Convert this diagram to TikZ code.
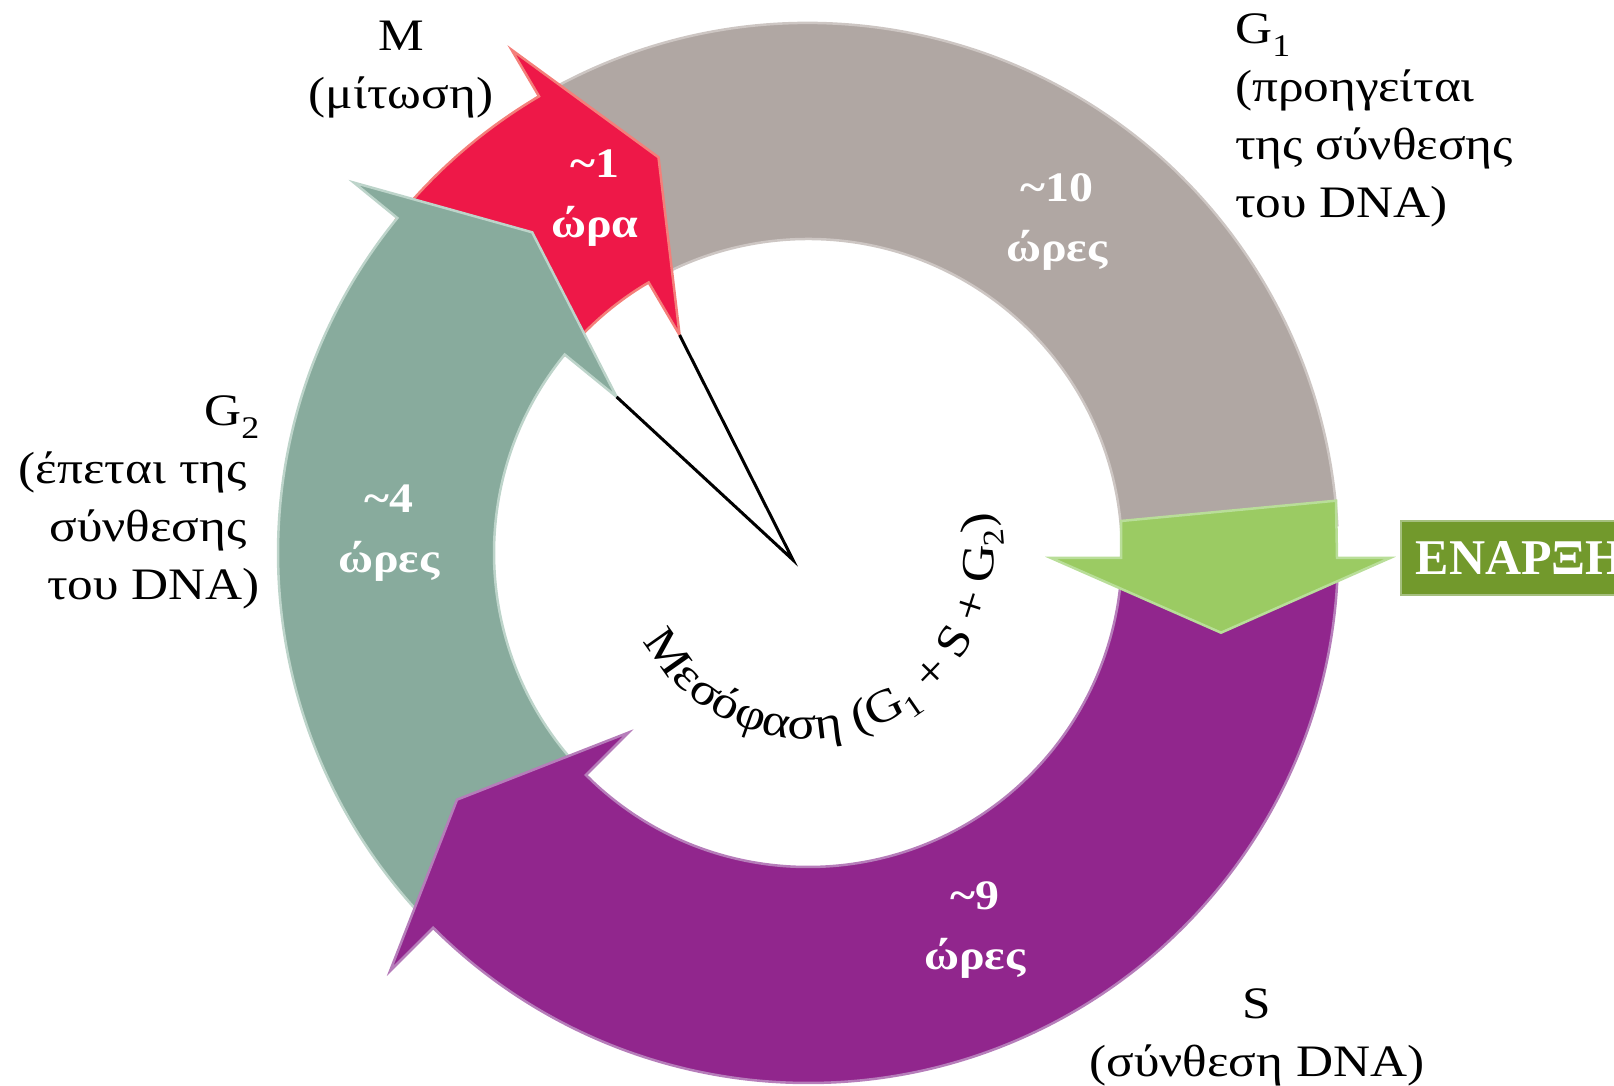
\documentclass[tikz,border=0pt]{standalone}
\usepackage{fontspec}
\setmainfont[FakeStretch=1.14]{Liberation Serif}
\newfontfamily\plainserif{Liberation Serif}
\usetikzlibrary{calc,decorations.text}
\definecolor{cgrey}{HTML}{B0A7A3}
\definecolor{cgreyL}{HTML}{CDC6C3}
\definecolor{cred}{HTML}{EE1848}
\definecolor{credL}{HTML}{F47F7A}
\definecolor{csage}{HTML}{88AB9D}
\definecolor{csageL}{HTML}{BDD4CA}
\definecolor{cpurp}{HTML}{91268D}
\definecolor{cpurpL}{HTML}{B67DBA}
\definecolor{clgreen}{HTML}{9BCB63}
\definecolor{clgreenL}{HTML}{B9DE99}
\definecolor{colive}{HTML}{72992C}
\definecolor{coliveL}{HTML}{A5BF7E}
\newdimen\mwA \newdimen\mwB \newdimen\mwC \newdimen\mwD \newdimen\mwT
\newcommand\curvF{\fontsize{46}{46}\selectfont}
\newcommand\curvf{\fontsize{30}{30}\selectfont}
\AtBeginDocument{%
  \settowidth\mwA{\curvF Μεσόφαση (G}\global\mwA=\mwA
  \settowidth\mwB{\curvF Μεσόφαση (G\curvf 1\curvF\ }\global\mwB=\mwB
  \settowidth\mwC{\curvF Μεσόφαση (G\curvf 1\curvF\ + S + G}\global\mwC=\mwC
  \settowidth\mwD{\curvF Μεσόφαση (G\curvf 1\curvF\ + S + G\curvf 2}\global\mwD=\mwD
  \settowidth\mwT{\curvF Μεσόφαση (G\curvf 1\curvF\ + S + G\curvf 2\curvF )}\global\mwT=\mwT
  \normalsize
}
\tikzset{
  seg/.style 2 args={fill=#1, draw=#2, line width=2.5pt, line join=miter},
  lbl/.style={font=\fontsize{45}{58}\selectfont, text=black, inner sep=0pt},
  wlbl/.style={font=\bfseries\fontsize{42}{60}\selectfont, text=white, align=center, inner sep=0pt},
  ptr/.style={draw=black, line width=3pt, line join=miter}
}
\begin{document}
\begin{tikzpicture}[x=1pt,y=1pt]
\useasboundingbox (0,0) rectangle (1614,1086);
\coordinate (C) at (808,533);
% grey G1
\path[seg={cgrey}{cgreyL}] ($(C)+(121:314pt)$) -- ($(C)+(121:530pt)$)
  arc[start angle=121, end angle=3, radius=530pt] -- ($(C)+(3:314pt)$)
  arc[start angle=3, end angle=121, radius=314pt] -- cycle;
% red M
\coordinate (rBarb) at ($(C)+(120.5:253pt)$);
\path[seg={cred}{credL}] ($(C)+(141:314pt)$) -- ($(C)+(141:530pt)$)
  arc[start angle=141, end angle=120.5, radius=530pt] -- ($(C)+(120.5:584pt)$)
  -- ($(C)+(110.7:423pt)$) -- (rBarb) -- ($(C)+(120.5:314pt)$)
  arc[start angle=120.5, end angle=141, radius=314pt] -- cycle;
% sage G2
\coordinate (gBarb) at ($(C)+(140.8:247pt)$);
\path[seg={csage}{csageL}] ($(C)+(226:314pt)$) -- ($(C)+(226:530pt)$)
  arc[start angle=226, end angle=140.8, radius=530pt] -- ($(C)+(140.8:586pt)$)
  -- ($(C)+(130.7:423pt)$) -- (gBarb) -- ($(C)+(140.8:314pt)$)
  arc[start angle=140.8, end angle=226, radius=314pt] -- cycle;
% purple S
\path[seg={cpurp}{cpurpL}] ($(C)+(-2.5:314pt)$) -- ($(C)+(-2.5:530pt)$)
  arc[start angle=-2.5, end angle=-135, radius=530pt] -- ($(C)+(-135:591pt)$)
  -- ($(C)+(-144.9:429pt)$) -- ($(C)+(-135:254pt)$) -- ($(C)+(-135:314pt)$)
  arc[start angle=-135, end angle=-2.5, radius=314pt] -- cycle;
% start arrow
\path[seg={clgreen}{clgreenL}] (1121,565) -- (1336,585.3) -- (1337,528) -- (1390,528)
  -- (1221,453.3) -- (1051,528) -- (1121,528) -- cycle;
\node[fill=colive, draw=coliveL, line width=1.5pt, anchor=west, minimum height=74pt,
  text width=240pt, align=left, inner xsep=15pt, inner ysep=0pt, text=white,
  font=\plainserif\bfseries\fontsize{50}{50}\selectfont] (start) at (1400,528) {ΕΝΑΡΞΗ};
% pointer
\coordinate (apex) at (793,526);
\draw[ptr] (rBarb) -- (apex) -- (gBarb);
% white labels
\node[wlbl] (t1) at (595,887.5) {\textasciitilde1\\ώρα};
\node[wlbl] (t10) at (1057,863.5) {\textasciitilde10\\ώρες};
\node[wlbl] (t4) at (389,552.5) {\textasciitilde4\\ώρες};
\node[wlbl] (t9) at (975,156) {\textasciitilde9\\ώρες};
% black labels
\node[lbl, align=center, anchor=north] (lM) at (401,1065) {M\\(μίτωση)};
\node[lbl, align=left, anchor=north west] (lG1) at (1235,1072) {G\textsubscript{1}\\(προηγείται\\της σύνθεσης\\του DNA)};
\node[lbl, align=right, anchor=north east] (lG2) at (260,690) {G\textsubscript{2}\\(έπεται της\kern13pt\\σύνθεσης\kern13pt\\του DNA)};
\node[lbl, align=center, anchor=north] (lS) at (1257,97) {S\\(σύνθεση DNA)};
% curved text
\pgfmathsetmacro\angA{290.5-0.5*\the\mwT/186*57.29578}
\pgfmathsetmacro\angB{\angA+\the\mwA/186*57.29578}
\pgfmathsetmacro\angC{\angA+\the\mwB/186*57.29578}
\pgfmathsetmacro\angD{\angA+\the\mwC/186*57.29578}
\pgfmathsetmacro\angE{\angA+\the\mwD/186*57.29578}
\pgfmathsetmacro\angAe{\angA+120}
\pgfmathsetmacro\angBe{\angB+20}
\pgfmathsetmacro\angCe{\angC+100}
\pgfmathsetmacro\angDe{\angD+20}
\pgfmathsetmacro\angEe{\angE+20}
\path[decorate, decoration={text along path, text={|\curvF|Μεσόφαση (G}}]
  ($(C)+(\angA:186pt)$) arc[start angle=\angA, end angle=\angAe, radius=186pt];
\path[decorate, decoration={text along path, text={|\curvf|1}}]
  ($(C)+(\angB:196pt)$) arc[start angle=\angB, end angle=\angBe, radius=196pt];
\path[decorate, decoration={text along path, text={|\curvF|+ S + G}}]
  ($(C)+(\angC:186pt)$) arc[start angle=\angC, end angle=\angCe, radius=186pt];
\path[decorate, decoration={text along path, text={|\curvf|2}}]
  ($(C)+(\angD:196pt)$) arc[start angle=\angD, end angle=\angDe, radius=196pt];
\path[decorate, decoration={text along path, text={|\curvF|)}}]
  ($(C)+(\angE:186pt)$) arc[start angle=\angE, end angle=\angEe, radius=186pt];
\end{tikzpicture}
\end{document}
